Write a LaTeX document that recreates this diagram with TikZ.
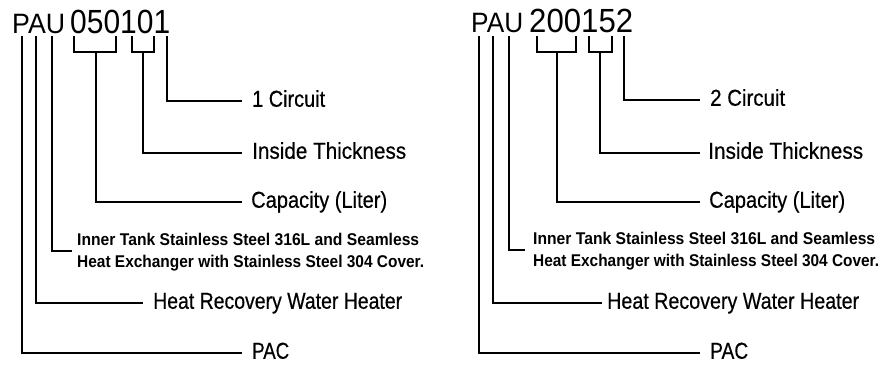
\documentclass[tikz,border=0pt]{standalone}
\usepackage{fontspec}
\setmainfont{Liberation Sans}
\newfontfamily\labfont[FakeBold=0.5]{Liberation Sans}
\newcommand{\fw}[2]{\resizebox{#1}{\height}{#2}}
\begin{document}
\begin{tikzpicture}[x=1pt,y=-1pt,
  wire/.style={line width=1.6pt, line join=miter},
  lab/.style={anchor=west, inner sep=0pt, font=\labfont\fontsize{23}{26}\selectfont, text height=16pt, text depth=4.5pt},
  note/.style={anchor=base west, inner sep=0pt, font=\fontsize{17}{22}\selectfont\bfseries},
  pau/.style={anchor=base west, inner sep=0pt, font=\fontsize{28}{30}\selectfont},
  num/.style={anchor=base west, inner sep=0pt, font=\fontsize{33.5}{36}\selectfont},
]
\useasboundingbox[fill=white] (0,0) rectangle (884,376);

% ---------- left code ----------
\node[pau] (pauL) at (12,33) {\fw{53pt}{PAU}};
\node[num] (numL) at (70,33) {\fw{100pt}{050101}};
\coordinate (pL) at (22,36);
\coordinate (aL) at (36,36);
\coordinate (uL) at (52,36);
\coordinate (b1aL) at (74,36);
\coordinate (b1bL) at (116,36);
\coordinate (s1L) at (96,52);
\coordinate (b2aL) at (132,36);
\coordinate (b2bL) at (154,36);
\coordinate (s2L) at (143,52);
\coordinate (dL) at (167,36);

\node[lab] (circL) at (252,101) {\fw{73pt}{1 Circuit}};
\node[lab] (thkL) at (252,153) {\fw{154pt}{Inside Thickness}};
\node[lab] (capL) at (251,202) {\fw{136pt}{Capacity (Liter)}};
\node[note] (innL1) at (77,245) {\fw{342pt}{Inner Tank Stainless Steel 316L and Seamless}};
\node[note] (innL2) at (77,267) {\fw{347pt}{Heat Exchanger with Stainless Steel 304 Cover.}};
\coordinate (innLc) at (72,251);
\node[lab] (heatL) at (153,303) {\fw{249pt}{Heat Recovery Water Heater}};
\node[lab] (pacL) at (252,353) {\fw{37pt}{PAC}};

\draw[wire] (dL) |- ([xshift=-10pt]circL.west);
\draw[wire] (b2aL) |- (s2L) -| (b2bL);
\draw[wire] (s2L) |- ([xshift=-10pt]thkL.west);
\draw[wire] (b1aL) |- (s1L) -| (b1bL);
\draw[wire] (s1L) |- ([xshift=-9pt]capL.west);
\draw[wire] (uL) |- (innLc);
\draw[wire] (aL) |- ([xshift=-10pt]heatL.west);
\draw[wire] (pL) |- ([xshift=-10pt]pacL.west);

% ---------- right code ----------
\node[pau] (pauR) at (471,32) {\fw{52pt}{PAU}};
\node[num] (numR) at (529,32) {\fw{104pt}{200152}};
\coordinate (pR) at (479,36);
\coordinate (aR) at (493,36);
\coordinate (uR) at (509,36);
\coordinate (b1aR) at (537,36);
\coordinate (b1bR) at (576,36);
\coordinate (s1R) at (557,52);
\coordinate (b2aR) at (589,36);
\coordinate (b2bR) at (612,36);
\coordinate (s2R) at (600,52);
\coordinate (dR) at (624,36);

\node[lab] (circR) at (710,100) {\fw{75pt}{2 Circuit}};
\node[lab] (thkR) at (708,153) {\fw{155pt}{Inside Thickness}};
\node[lab] (capR) at (709,202) {\fw{136pt}{Capacity (Liter)}};
\node[note] (innR1) at (533,244) {\fw{342pt}{Inner Tank Stainless Steel 316L and Seamless}};
\node[note] (innR2) at (533,266) {\fw{346pt}{Heat Exchanger with Stainless Steel 304 Cover.}};
\coordinate (innRc) at (525,250);
\node[lab] (heatR) at (607,303) {\fw{252pt}{Heat Recovery Water Heater}};
\node[lab] (pacR) at (710,353) {\fw{38pt}{PAC}};

\draw[wire] (dR) |- ([xshift=-10pt]circR.west);
\draw[wire] (b2aR) |- (s2R) -| (b2bR);
\draw[wire] (s2R) |- ([xshift=-8pt]thkR.west);
\draw[wire] (b1aR) |- (s1R) -| (b1bR);
\draw[wire] (s1R) |- ([xshift=-9pt]capR.west);
\draw[wire] (uR) |- (innRc);
\draw[wire] (aR) |- ([xshift=-5pt]heatR.west);
\draw[wire] (pR) |- ([xshift=-10pt]pacR.west);
\end{tikzpicture}
\end{document}
